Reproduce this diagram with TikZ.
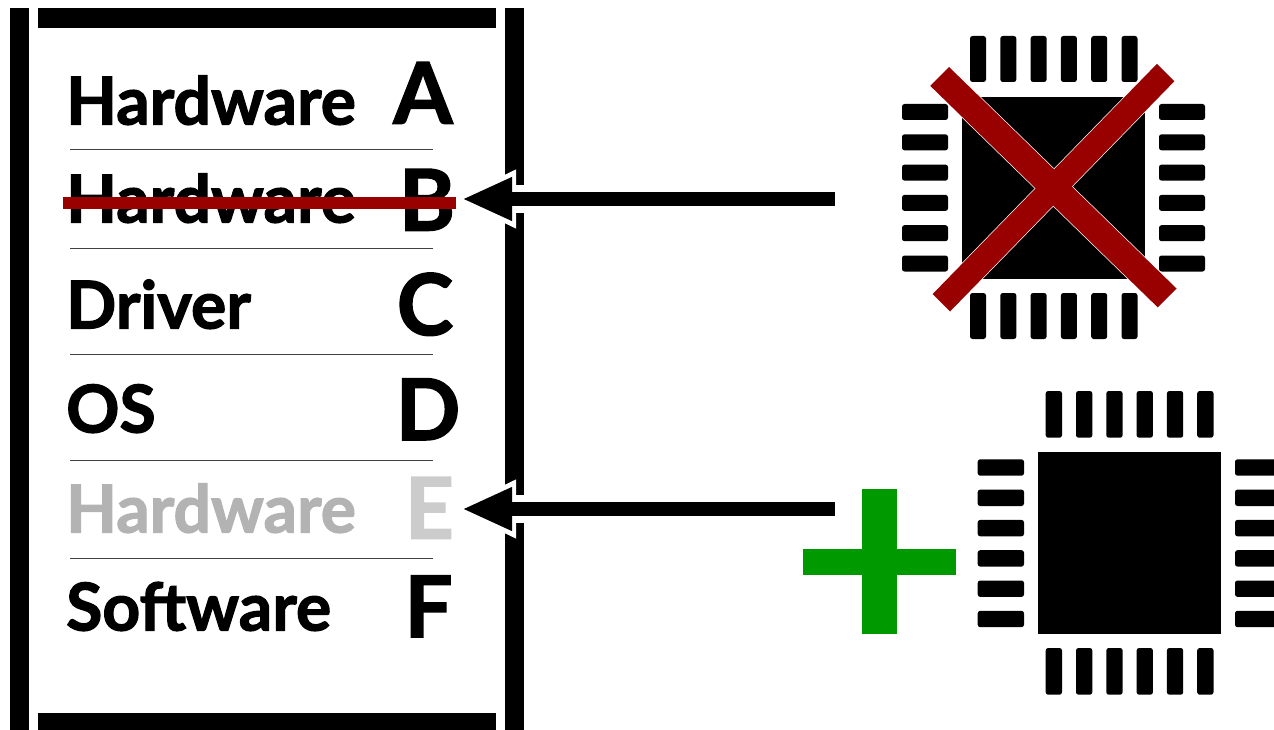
\documentclass[tikz,border=0pt]{standalone}
\usepackage{fontspec}
\setmainfont{Lato}[BoldFeatures={FakeBold=1.8}]
\usetikzlibrary{arrows.meta}
\definecolor{xred}{HTML}{990000}
\definecolor{pgreen}{HTML}{009900}
\definecolor{hgray}{HTML}{B3B3B3}
\definecolor{egray}{HTML}{CCCCCC}
\tikzset{
  rowlabel/.style={anchor=base west,inner sep=0pt,font=\bfseries\fontsize{66}{70}\selectfont},
  letterlabel/.style={anchor=base,inner sep=0pt,font=\bfseries\fontsize{85}{92}\selectfont},
  rule/.style={draw=black!75,line width=1pt},
  barblk/.style={fill=black},
  pin/.style={fill=black,rounded corners=2.5pt},
  halo/.style={draw=white,line width=27.5pt,-{Triangle[length=63pt,width=54pt]}},
  arrowmain/.style={draw=black,line width=13.5pt,-{Triangle[length=50pt,width=40pt]}},
  crossout/.style={draw=white,line width=1.4pt},
  crossfill/.style={fill=xred},
}
\begin{document}
\begin{tikzpicture}[x=1pt,y=-1pt]
\useasboundingbox (0,0) rectangle (1274,730);
\clip (0,0) rectangle (1274,730);
% frame
\fill[barblk] (10,8) rectangle (29,730);
\fill[barblk] (505,8) rectangle (524,730);
\fill[barblk] (38,8) rectangle (496,28);
\fill[barblk] (38,713) rectangle (496,730);
% arrows: coordinates
\coordinate (tailB) at (835,199);
\coordinate (tipB) at (462,199);
\coordinate (haloB) at (453,199);
\coordinate (tailE) at (835,509);
\coordinate (tipE) at (462,509);
\coordinate (haloE) at (453,509);
\draw[halo] (tailB) -- (haloB);
\draw[halo] (tailE) -- (haloE);
\draw[arrowmain] (tailB) -- (tipB);
\draw[arrowmain] (tailE) -- (tipE);
% separators
\coordinate (r1a) at (70,150); \coordinate (r1b) at (433,150);
\coordinate (r2a) at (70,248); \coordinate (r2b) at (433,248);
\coordinate (r3a) at (70,354); \coordinate (r3b) at (433,354);
\coordinate (r4a) at (70,460); \coordinate (r4b) at (433,460);
\coordinate (r5a) at (70,558); \coordinate (r5b) at (433,558);
\foreach \i in {1,...,5} \draw[rule] (r\i a) -- (r\i b);
% labels
\node[rowlabel] (hwA) at (66,124.5) {Hardware};
\node[letterlabel] (lA) at (423,123.5) {A};
\node[rowlabel] (hwB) at (66,222.5) {Hardware};
\node[letterlabel] (lB) at (427,230.5) {B};
\node[rowlabel] (drv) at (66,328.5) {Driver};
\node[letterlabel] (lC) at (425,335) {C};
\node[rowlabel] (os) at (66,432.5) {OS};
\node[letterlabel] (lD) at (428,440) {D};
\node[rowlabel,text=hgray] (hwE) at (66,532.5) {Hardware};
\node[letterlabel,text=egray] (lE) at (429.5,538.5) {E};
\node[rowlabel] (sw) at (66,630.5) {Software};
\node[letterlabel] (lF) at (428.5,637) {F};
\fill[xred] (63,197) rectangle (456,209);
% chip 1
\fill[black] (962,97) rectangle (1145,279);
\foreach \k in {0,...,5}{
  \fill[pin] ({970+30.3*\k},36) rectangle ({986+30.3*\k},82);
  \fill[pin] ({970+30.3*\k},293) rectangle ({986+30.3*\k},339);
  \fill[pin] (902,{104+30.3*\k}) rectangle (948,{120+30.3*\k});
  \fill[pin] (1159,{104+30.3*\k}) rectangle (1205,{120+30.3*\k});
}
\def\barone{(930.3,85.9) -- (949.1,67.1) -- (1176.6,288.6) -- (1157.8,307.4) -- cycle}
\def\bartwo{(932.6,294.1) -- (1157,63.8) -- (1174.4,81.2) -- (950,311.5) -- cycle}
\draw[crossout] \barone;
\draw[crossout] \bartwo;
\fill[crossfill] \barone;
\fill[crossfill] \bartwo;
% plus
\fill[pgreen] (862.3,489.3) rectangle (897,634.3);
\fill[pgreen] (803.3,548.7) rectangle (956,575);
% chip 2
\fill[black] (1038,452) rectangle (1220.7,634);
\foreach \k in {0,...,5}{
  \fill[pin] ({1045.7+30.3*\k},391) rectangle ({1062+30.3*\k},437.7);
  \fill[pin] ({1045.7+30.3*\k},648) rectangle ({1062+30.3*\k},694.7);
  \fill[pin] (977.7,{459.3+30.3*\k}) rectangle (1024,{475.7+30.3*\k});
  \fill[pin] (1235,{459.3+30.3*\k}) rectangle (1281,{475.7+30.3*\k});
}
\end{tikzpicture}
\end{document}
